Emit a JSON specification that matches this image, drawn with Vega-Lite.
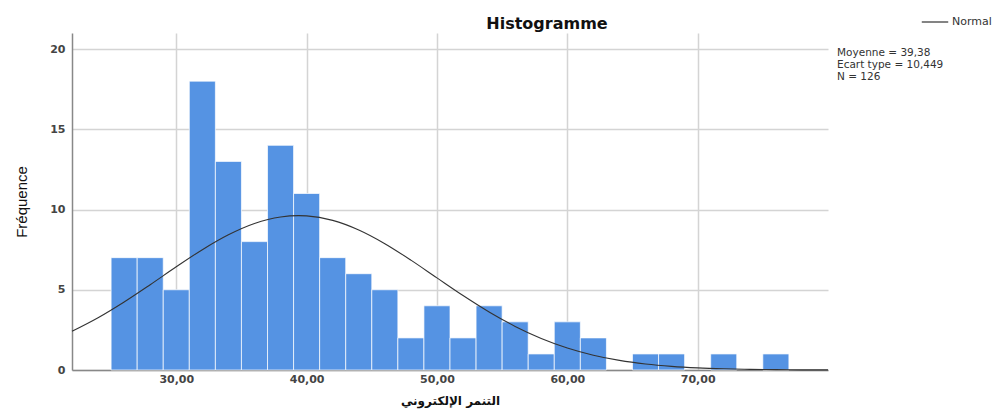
{
  "$schema": "https://vega.github.io/schema/vega-lite/v6.json",
  "width": 756,
  "height": 337,
  "autosize": {"type": "none"},
  "padding": {"left": 72, "top": 33, "right": 164, "bottom": 40},
  "background": "white",
  "title": {
    "text": "Histogramme",
    "font": "DejaVu Sans",
    "fontSize": 16,
    "fontWeight": "bold",
    "color": "#111",
    "anchor": "middle",
    "frame": "group",
    "dx": 97,
    "offset": -24
  },
  "config": {
    "view": {"stroke": null},
    "axis": {"labelFont": "DejaVu Sans", "titleFont": "DejaVu Sans"}
  },
  "datasets": {
    "bins": [
      {"x0": 25, "x1": 27, "count": 7},
      {"x0": 27, "x1": 29, "count": 7},
      {"x0": 29, "x1": 31, "count": 5},
      {"x0": 31, "x1": 33, "count": 18},
      {"x0": 33, "x1": 35, "count": 13},
      {"x0": 35, "x1": 37, "count": 8},
      {"x0": 37, "x1": 39, "count": 14},
      {"x0": 39, "x1": 41, "count": 11},
      {"x0": 41, "x1": 43, "count": 7},
      {"x0": 43, "x1": 45, "count": 6},
      {"x0": 45, "x1": 47, "count": 5},
      {"x0": 47, "x1": 49, "count": 2},
      {"x0": 49, "x1": 51, "count": 4},
      {"x0": 51, "x1": 53, "count": 2},
      {"x0": 53, "x1": 55, "count": 4},
      {"x0": 55, "x1": 57, "count": 3},
      {"x0": 57, "x1": 59, "count": 1},
      {"x0": 59, "x1": 61, "count": 3},
      {"x0": 61, "x1": 63, "count": 2},
      {"x0": 65, "x1": 67, "count": 1},
      {"x0": 67, "x1": 69, "count": 1},
      {"x0": 71, "x1": 73, "count": 1},
      {"x0": 75, "x1": 77, "count": 1}
    ],
    "curve": [
      {"x": 22, "y": 2.412},
      {"x": 24, "y": 3.257},
      {"x": 26, "y": 4.239},
      {"x": 28, "y": 5.317},
      {"x": 30, "y": 6.431},
      {"x": 32, "y": 7.499},
      {"x": 34, "y": 8.427},
      {"x": 36, "y": 9.131},
      {"x": 38, "y": 9.538},
      {"x": 39.38, "y": 9.622},
      {"x": 40, "y": 9.605},
      {"x": 42, "y": 9.324},
      {"x": 44, "y": 8.726},
      {"x": 46, "y": 7.873},
      {"x": 48, "y": 6.847},
      {"x": 50, "y": 5.74},
      {"x": 52, "y": 4.64},
      {"x": 54, "y": 3.616},
      {"x": 56, "y": 2.716},
      {"x": 58, "y": 1.967},
      {"x": 60, "y": 1.373},
      {"x": 62, "y": 0.924},
      {"x": 64, "y": 0.599},
      {"x": 66, "y": 0.375},
      {"x": 68, "y": 0.226},
      {"x": 70, "y": 0.131},
      {"x": 72, "y": 0.074},
      {"x": 74, "y": 0.04},
      {"x": 76, "y": 0.021},
      {"x": 78, "y": 0.01},
      {"x": 80, "y": 0.005}
    ]
  },
  "layer": [
    {
      "data": {"name": "bins"},
      "mark": {"type": "bar", "color": "#5593e3", "stroke": "#ffffff", "strokeOpacity": 0.7, "strokeWidth": 1},
      "encoding": {
        "x": {
          "field": "x0",
          "type": "quantitative",
          "scale": {"domain": [22, 80], "nice": false, "zero": false},
          "axis": {
            "values": [30, 40, 50, 60, 70],
            "labelExpr": "replace(format(datum.value, '.2f'), '.', ',')",
            "ticks": false,
            "domainColor": "#888888",
            "domainWidth": 1.5,
            "gridColor": "#d4d4d4",
            "gridWidth": 1.5,
            "labelFontSize": 11,
            "labelFontWeight": "bold",
            "labelColor": "#444444",
            "labelPadding": 3,
            "title": "التنمر الإلكتروني",
            "titleFontSize": 12,
            "titleFontWeight": "bold",
            "titleColor": "#111111",
            "titlePadding": 11
          }
        },
        "x2": {"field": "x1"},
        "y": {
          "field": "count",
          "type": "quantitative",
          "scale": {"domain": [0, 21], "nice": false},
          "axis": {
            "values": [0, 5, 10, 15, 20],
            "ticks": false,
            "domainColor": "#888888",
            "domainWidth": 1.5,
            "gridColor": "#d4d4d4",
            "gridWidth": 1.5,
            "labelFontSize": 11,
            "labelFontWeight": "bold",
            "labelColor": "#444444",
            "labelPadding": 7,
            "title": "Fréquence",
            "titleFont": "Liberation Sans",
            "titleFontSize": 15,
            "titleFontWeight": "normal",
            "titleColor": "#111111",
            "titlePadding": 20
          }
        },
        "y2": {"datum": 0}
      }
    },
    {
      "data": {"name": "curve"},
      "mark": {"type": "line", "interpolate": "monotone", "strokeWidth": 1.1},
      "encoding": {
        "x": {"field": "x", "type": "quantitative"},
        "y": {"field": "y", "type": "quantitative"},
        "stroke": {
          "datum": "Normal",
          "type": "nominal",
          "scale": {"range": ["#333333"]},
          "legend": {
            "orient": "none",
            "legendX": 765,
            "legendY": -25,
            "symbolType": "stroke",
            "symbolSize": 700,
            "symbolStrokeWidth": 1.2,
            "symbolOffset": 84,
            "labelFont": "DejaVu Sans",
            "labelFontSize": 11,
            "labelColor": "#333333",
            "labelOffset": 3,
            "title": ["Moyenne = 39,38", "Ecart type = 10,449", "N = 126"],
            "titleOrient": "bottom",
            "titleAnchor": "start",
            "titleAlign": "left",
            "titleFont": "DejaVu Sans",
            "titleFontSize": 10.5,
            "titleFontWeight": "normal",
            "titleColor": "#333333",
            "titleLineHeight": 12,
            "titlePadding": 21
          }
        }
      }
    }
  ]
}
